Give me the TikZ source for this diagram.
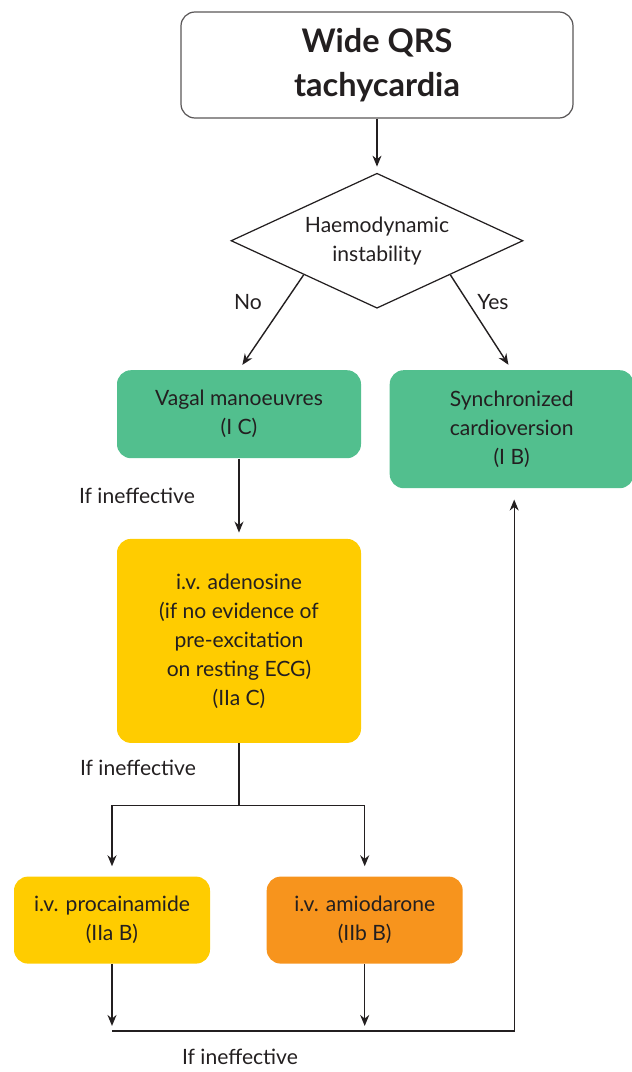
\documentclass[tikz,border=0pt]{standalone}
\usepackage{fontspec}
\setmainfont{Lato}
\usetikzlibrary{positioning, arrows.meta, shapes.geometric, calc}
\definecolor{inkgrey}{HTML}{231F20}
\definecolor{boxgreen}{HTML}{52BF8E}
\definecolor{boxyellow}{HTML}{FFCC00}
\definecolor{boxorange}{HTML}{F7941D}

\begin{document}
\begin{tikzpicture}[
        node distance=1cm,
        txt/.style={text=inkgrey, font=\fontsize{12}{16.5}\selectfont},
        stepbox/.style={txt, rectangle, rounded corners=2.8mm, align=center, inner sep=1mm},
        titlebox/.style={stepbox, draw=inkgrey!75, line width=0.7pt, minimum width=7.84cm, minimum height=2.12cm,
          font=\bfseries\fontsize{18.5}{25}\selectfont},
        decision/.style={txt, diamond, draw=inkgrey, line width=0.7pt, aspect=2.16, inner sep=0pt, align=center,
          minimum width=5.84cm, minimum height=2.7cm},
        greenbox/.style={stepbox, fill=boxgreen, minimum width=4.88cm},
        yellowbox/.style={stepbox, fill=boxyellow, minimum width=4.88cm},
        drugbox/.style={stepbox, minimum width=3.92cm, minimum height=1.74cm},
        arrow/.style={-{Stealth[length=2.2mm,width=1.8mm]}, line width=0.8pt, draw=inkgrey, shorten >=1.2mm},
        link/.style={line width=0.8pt, draw=inkgrey}
      ]
        \useasboundingbox (0,0) rectangle (12.64,-21.44);

        \node[titlebox] (start) at (7.54,-1.30) {Wide QRS\\tachycardia};
        \node[decision, below=1.08cm of start] (haemo) {Haemodynamic\\instability};
        \node[greenbox, minimum height=1.76cm, below=1.22cm of haemo, xshift=-2.76cm] (vagal) {Vagal manoeuvres\\(I C)};
        \node[greenbox, minimum height=2.36cm, anchor=north west] (cardio) at ([xshift=0.56cm]vagal.north east)
          {Synchronized\\cardioversion\\(I B)};
        \node[yellowbox, minimum height=4.08cm, below=1.6cm of vagal] (adeno)
          {i.v. adenosine\\(if no evidence of\\pre-excitation\\on resting ECG)\\(IIa C)};
        \coordinate[below=1.24cm of adeno] (split);
        \node[drugbox, fill=boxyellow, below=2.66cm of adeno, xshift=-2.54cm] (procain) {i.v. procainamide\\(IIa B)};
        \node[drugbox, fill=boxorange, right=1.12cm of procain] (amio) {i.v. amiodarone\\(IIb B)};
        \coordinate[below=1.34cm of procain] (joinL);
        \coordinate (joinR) at ([xshift=0.05cm]cardio.south |- joinL);

        % labels
        \node[txt] (nolbl) at (4.96,-6.04) {No};
        \node[txt] (yeslbl) at (9.86,-6.04) {Yes};
        \node[txt] (ineff1) at (2.74,-9.92) {If ineffective};
        \node[txt] (ineff2) at (2.76,-15.36) {If ineffective};
        \node[txt] (ineff3) at (4.80,-21.14) {If ineffective};

        \draw[arrow] (start) -- (haemo);
        \draw[arrow] (haemo.south west) -- (vagal.north);
        \draw[arrow] (haemo.south east) -- (cardio.north);
        \draw[arrow] (vagal) -- (adeno);
        \draw[link] (adeno) -- (split);
        \draw[arrow, shorten >=2mm] (split) -| (procain);
        \draw[arrow, shorten >=2mm] (split) -| (amio);
        \draw[arrow, shorten >=1mm] (procain) -- (procain |- joinL);
        \draw[arrow, shorten >=1mm] (amio) -- (amio |- joinL);
        \draw[arrow, shorten >=2.2mm] (joinL) -- (joinR) -- (joinR |- cardio.south);
      \end{tikzpicture}
\end{document}
